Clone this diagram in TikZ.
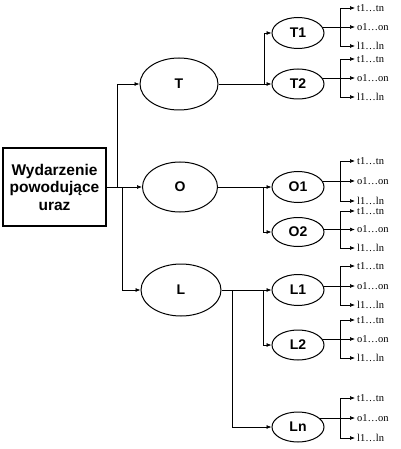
\documentclass[tikz,border=0pt]{standalone}
\usepackage{fontspec}
\setmainfont{Liberation Serif}
\setsansfont{Liberation Sans}
\usetikzlibrary{shapes.geometric,arrows.meta}
\pgfdeclarelayer{bg}
\pgfsetlayers{bg,main}
\tikzset{
 ell/.style={ellipse,draw,fill=white,line width=1pt,inner sep=0pt,font=\sffamily\bfseries\fontsize{14}{16}\selectfont},
 bigell/.style={ell,minimum width=78pt,minimum height=52pt},
 smallell/.style={ell,minimum width=52pt,minimum height=31pt},
 leaf/.style={anchor=west,inner xsep=2pt,inner ysep=0pt,font=\fontsize{10.5}{11}\selectfont},
 arr/.style={-{Latex[length=5pt,width=4pt]}},
 con/.style={line width=0.7pt},
 boxst/.style={draw,line width=1.2pt,minimum width=103pt,minimum height=78pt,inner sep=0pt,align=center,font=\sffamily\bfseries\fontsize{15.5}{17.5}\selectfont},
}
\newcommand\mkleaves[5]{%
 \node[leaf] (#1t) at (355,#3) {t1…tn};
 \node[leaf] (#1o) at (355,#4) {o1…on};
 \node[leaf] (#1l) at (355,#5) {l1…ln};
 \coordinate (#1j) at (340,#4);
 \begin{pgfonlayer}{bg}
 \draw[con] (#2.center |- #1j) -- (#1j);
 \end{pgfonlayer}
 \draw[con,arr] (#1j) -- (#1o.west);
 \draw[con,arr] (#1j) |- (#1t.west);
 \draw[con,arr] (#1j) |- (#1l.west);
}
\begin{document}
\begin{tikzpicture}[x=1pt,y=-1pt]
\useasboundingbox (0,0) rectangle (400,449);
% root
\node[boxst] (box) at (54.5,187) {Wydarzenie\\powodujące\\uraz};
% first level
\node[bigell] (T) at (179,84) {T};
\node[bigell,minimum width=75pt,minimum height=50pt] (O) at (180,187) {O};
\node[bigell,minimum width=80pt] (L) at (181,290) {L};
% second level
\node[smallell] (T1) at (298,33) {T1};
\node[smallell,minimum height=30pt] (T2) at (298,84) {T2};
\node[smallell] (O1) at (298,187) {O1};
\node[smallell,minimum height=29pt] (O2) at (298,232) {O2};
\node[smallell] (L1) at (298,290) {L1};
\node[smallell,minimum height=30pt] (L2) at (298,345) {L2};
\node[smallell,minimum height=30pt] (Ln) at (298,427) {Ln};
% root connectors
\coordinate (jT) at (117,187);
\coordinate (jL) at (122,187);
\draw[con,arr] (box.east) -- (O.west);
\draw[con,arr] (jT) |- (T.west);
\draw[con,arr] (jL) |- (L.west);
% T branch
\coordinate (tj) at (264,84);
\draw[con] (T.east) -- (tj);
\draw[con,arr] (tj) |- (T1.west);
\draw[con,arr] (tj) -- (T2.west);
% O branch
\coordinate (oj) at (263,187);
\draw[con] (O.east) -- (oj);
\draw[con,arr] (oj) -- (O1.west);
\draw[con,arr] (oj) |- (O2.west);
% L branch
\coordinate (lja) at (232,290);
\coordinate (ljb) at (263,290);
\draw[con] (L.east) -- (ljb);
\draw[con,arr] (ljb) -- (L1.west);
\draw[con,arr] (ljb) |- (L2.west);
\draw[con,arr] (lja) |- (Ln.west);
% leaves
\mkleaves{a}{T1}{8}{27}{46}
\mkleaves{b}{T2}{59}{78}{97}
\mkleaves{c}{O1}{161}{181}{201}
\mkleaves{d}{O2}{211}{229.5}{248}
\mkleaves{e}{L1}{266}{286}{305}
\mkleaves{f}{L2}{320}{339}{358}
\mkleaves{g}{Ln}{398}{418}{438}
\end{tikzpicture}
\end{document}
